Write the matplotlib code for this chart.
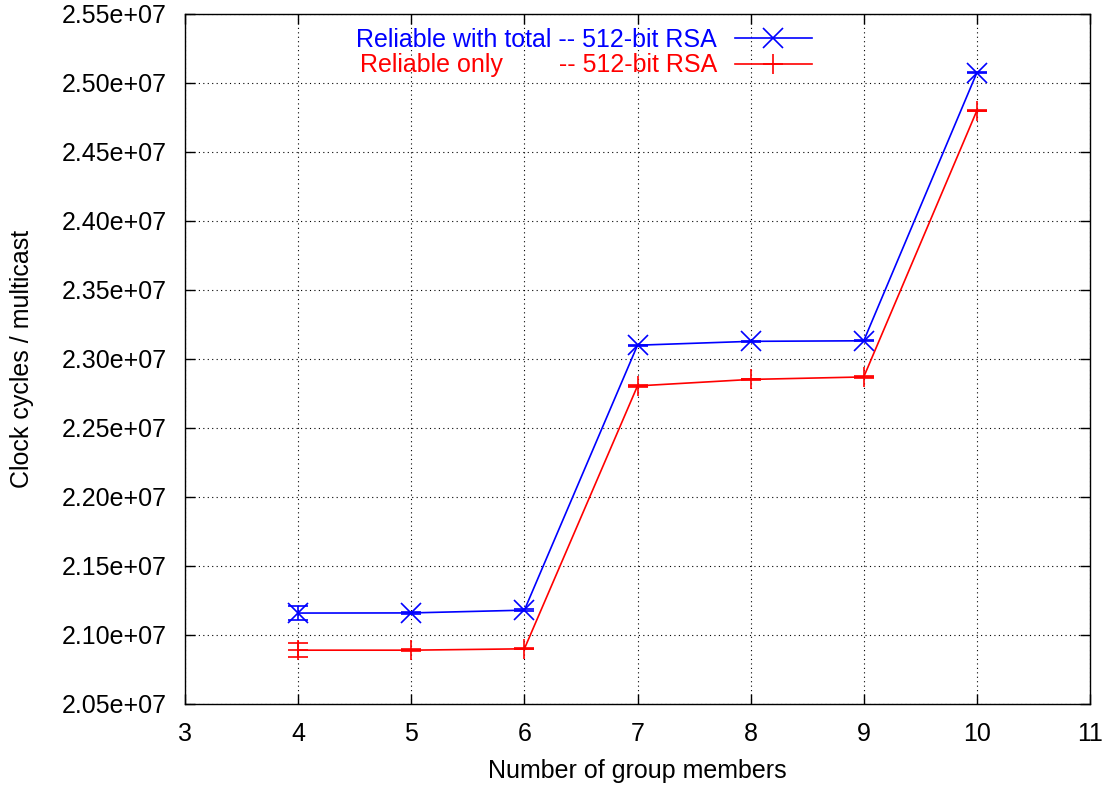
import matplotlib
matplotlib.use("Agg")
import matplotlib.pyplot as plt
from matplotlib.lines import Line2D

plt.rcParams['font.family'] = ['Liberation Sans', 'DejaVu Sans']

members = [4, 5, 6, 7, 8, 9, 10]
total_cycles = [2.1159e7, 2.1160e7, 2.1180e7, 2.3100e7, 2.3128e7, 2.3132e7, 2.5075e7]
total_err = [5.0e4, 0.5e4, 0.5e4, 0.5e4, 0.5e4, 0.5e4, 0.5e4]
reliable_cycles = [2.0890e7, 2.0890e7, 2.0900e7, 2.2805e7, 2.2852e7, 2.2870e7, 2.4800e7]
reliable_err = [5.0e4, 0.5e4, 0.5e4, 0.5e4, 0.5e4, 0.5e4, 0.5e4]
label_total = "Reliable with total -- 512-bit RSA"
label_reliable = "Reliable only        -- 512-bit RSA"
x_ticks = [3, 4, 5, 6, 7, 8, 9, 10, 11]
y_ticks = [2.05e7, 2.10e7, 2.15e7, 2.20e7, 2.25e7, 2.30e7, 2.35e7, 2.40e7, 2.45e7, 2.50e7, 2.55e7]

W, H = 1108, 787
fig = plt.figure(figsize=(W / 100, H / 100), dpi=100)
ax = fig.add_axes([185 / W, 1 - 704 / H, (1090 - 185) / W, (704 - 14) / H])

fs = 18
blue, red = '#0000ff', '#ff0000'
style = dict(lw=1.2, markersize=15, markeredgewidth=1.2, capsize=7,
             elinewidth=1.2, capthick=1.2)
ax.errorbar(members, total_cycles, yerr=total_err, color=blue, marker='x', **style)
ax.errorbar(members, reliable_cycles, yerr=reliable_err, color=red, marker='+', **style)

ax.set_xlim(3, 11)
ax.set_ylim(2.05e7, 2.55e7)
ax.set_xticks(x_ticks)
ax.set_yticks(y_ticks)
ax.set_xticklabels([str(t) for t in x_ticks])
ax.set_yticklabels(["%.2fe+07" % (t / 1e7) for t in y_ticks])
ax.tick_params(direction='in', length=7, width=1, top=True, right=True,
               labelsize=fs)
ax.tick_params(axis='y', pad=13)
ax.tick_params(axis='x', pad=13)
ax.grid(True, color='black', linestyle=(0, (1, 3)), linewidth=0.8)
for s in ax.spines.values():
    s.set_linewidth(1.0)

ax.set_xlabel("Number of group members", fontsize=fs, labelpad=9)
ax.set_ylabel("Clock cycles / multicast", fontsize=fs, labelpad=20)

handles = [Line2D([], [], color=blue, marker='x', lw=1.2, markersize=15, markeredgewidth=1.2),
           Line2D([], [], color=red, marker='+', lw=1.2, markersize=15, markeredgewidth=1.2)]
leg = ax.legend(handles, [label_total, label_reliable],
                loc='upper right', bbox_to_anchor=(812 / W, 1 - 28 / H),
                bbox_transform=fig.transFigure, frameon=False, markerfirst=False,
                fontsize=fs, handlelength=3.1, handletextpad=0.7, borderpad=0,
                borderaxespad=0, labelspacing=0.05)
for txt, c in zip(leg.get_texts(), [blue, red]):
    txt.set_color(c)

fig.savefig("out.png", dpi=100)
